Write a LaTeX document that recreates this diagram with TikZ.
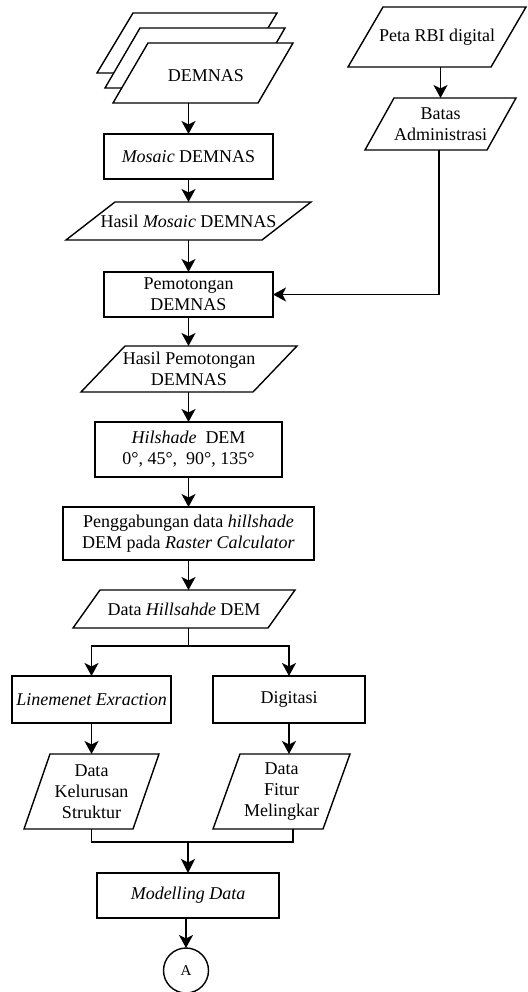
\documentclass[tikz,border=0pt]{standalone}
\usepackage{fontspec}
\setmainfont{Liberation Serif}
\usetikzlibrary{arrows.meta,calc,positioning}
\begin{document}
\begin{tikzpicture}[x=1pt,y=-1pt,
  every node/.style={inner sep=0pt,outer sep=0pt,align=center,
    font=\fontsize{18}{21}\selectfont},
  procbox/.style={draw,line width=1.4pt,minimum width=#1},
  databox/.style={minimum width=#1},
  conn/.style={line width=1.4pt},
  flow/.style={conn,-{Stealth[length=13pt,width=14pt,inset=3.5pt]}},
  bigflow/.style={line width=2.2pt,-{Stealth[length=14pt,width=14pt,inset=3.5pt]}}]
\useasboundingbox (0,0) rectangle (527,992);

% ---- input data (stacked DEM tiles) ----
\node[databox=180,minimum height=60] (demC) at (187,43) {};
\node[databox=180,minimum height=60] (demB) at (195,58) {};
\node[databox=180,minimum height=60] (dem)  at (203,73) {};
\foreach \n/\s in {demC/36,demB/35}
  \draw[conn,fill=white] ($(\n.north west)+(\s,0)$) -- (\n.north east)
    -- ($(\n.south east)-(\s,0)$) -- (\n.south west) -- cycle;
\draw[conn,fill=white] ($(dem.north west)+(35,0)$) -- (dem.north east)
    -- ($(dem.south east)-(35,0)$) -- (dem.south west) -- cycle;
\node at (206,76) {DEMNAS};

% ---- main column ----
\node[procbox=169,minimum height=45] (mosaic) at (188.5,156.5) {\textit{Mosaic} DEMNAS};
\node[databox=245,minimum height=38] (hmos) at (188.5,221) {Hasil \textit{Mosaic} DEMNAS};
\node[procbox=169,minimum height=45] (potong) at (188.5,294.5) {Pemotongan\\DEMNAS};
\node[databox=216,minimum height=46] (hpot) at (189,369) {Hasil Pemotongan\\DEMNAS};
\node[procbox=187,minimum height=55] (hill) at (188.5,449.5)
  {\textit{Hilshade}\ \ DEM\\0°, 45°,\ \ 90°, 135°};
\node[procbox=251,minimum height=53] (gab) at (188.5,533.5)
  {Penggabungan data \textit{hillshade}\\DEM pada \textit{Raster Calculator}};
\node[databox=222,minimum height=38] (dhill) at (184,609) {Data \textit{Hillsahde} DEM};

% ---- two branches ----
\node[procbox=159,minimum height=47] (lin) at (91.5,699.5) {\textit{Linemenet Exraction}};
\node[procbox=152,minimum height=47] (dig) at (289,699.5) {Digitasi};
\node[databox=135,minimum height=75] (dks) at (91.5,791.5) {Data\\Kelurusan\\Struktur};
\node[databox=137,minimum height=75] (dfm) at (281.5,791.5) {Data\\Fitur\\Melingkar};

\node[procbox=182,minimum height=45] (model) at (188,895.5) {\textit{Modelling Data}};
\node[draw,circle,line width=1.4pt,minimum size=45pt,
  font=\fontsize{15}{18}\selectfont] (A) at (186,970.5) {A};

% ---- right column ----
\node[databox=178,minimum height=60] (peta) at (437,37) {Peta RBI digital};
\node[databox=151,minimum height=52] (batas) at (440.5,124) {Batas\\Administrasi};

% parallelogram outlines of the data nodes
\foreach \n/\s in {hmos/49,hpot/44,dhill/27,dks/26,dfm/27,peta/35,batas/29}
  \draw[conn] ($(\n.north west)+(\s,0)$) -- (\n.north east)
    -- ($(\n.south east)-(\s,0)$) -- (\n.south west) -- cycle;

% ---- connectors ----
\draw[flow] (mosaic.north |- dem.south) -- (mosaic.north);
\draw[flow] (mosaic.south) -- (hmos.north);
\draw[flow] (hmos.south) -- (potong.north);
\draw[flow] (potong.south) -- (potong.south |- hpot.north);
\draw[flow] (hill.north |- hpot.south) -- (hill.north);
\draw[flow] (hill.south) -- (gab.north);
\draw[flow] (gab.south) -- (gab.south |- dhill.north);

\coordinate (split) at (188.5,646);
\draw[conn] (split |- dhill.south) -- (split);
\draw[flow] (split) -| (lin.north);
\draw[flow] (split) -| (dig.north);
\draw[flow] (lin.south) -- (lin.south |- dks.north);
\draw[flow] (dig.south) -- (dig.south |- dfm.north);

\coordinate (join) at (188,842);
\coordinate (rdrop) at (293,842);
\draw[conn] (lin.south |- dks.south) -- (lin.south |- join)
  -- (rdrop) -- (rdrop |- dfm.south);
\draw[bigflow] (join) -- (join |- model.north);
\draw[flow] (A.north |- model.south) -- (A.north);

\draw[flow] (batas.north |- peta.south) -- (batas.north);
\coordinate (turn) at (439,294.5);
\draw[flow] (turn |- batas.south) -- (turn) -- (potong.east);
\end{tikzpicture}
\end{document}
